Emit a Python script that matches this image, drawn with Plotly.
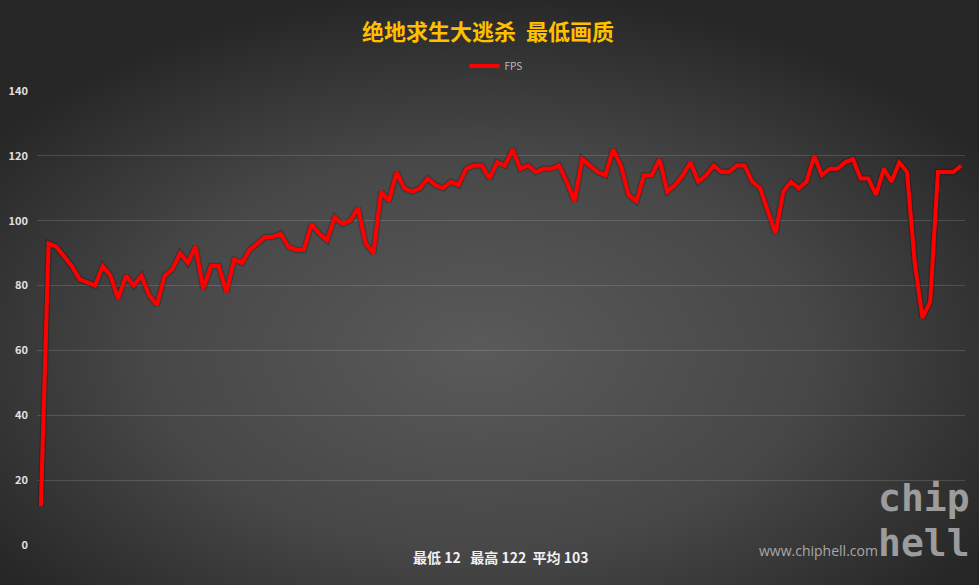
import base64
import plotly.graph_objects as go

title_text = "绝地求生大逃杀  最低画质"
series_name = "FPS"
fps = [12, 93, 92, 89, 86, 82, 81, 80, 86, 83,
       76, 83, 80, 83, 77, 74, 83, 85, 90, 87,
       92, 79, 86, 86, 78, 88, 87, 91, 93, 95,
       95, 96, 92, 91, 91, 99, 96, 94, 101, 99,
       100, 104, 93, 90, 109, 106, 115, 110, 109, 110,
       113, 111, 110, 112, 111, 116, 117, 117, 113, 118,
       117, 122, 116, 117, 115, 116, 116, 117, 112, 106,
       119, 117, 115, 114, 122, 117, 108, 106, 114, 114,
       119, 109, 111, 114, 118, 112, 114, 117, 115, 115,
       117, 117, 112, 110, 103, 96, 109, 112, 110, 112,
       120, 114, 116, 116, 118, 119, 113, 113, 108, 116,
       112, 118, 115, 87, 70, 75, 115, 115, 115, 117]
samples = list(range(len(fps)))
y_ticks = [0, 20, 40, 60, 80, 100, 120, 140]
footer_text = "最低 12   最高 122  平均 103"
site_text = "www.chiphell.com"

W, H = 979, 585
L, R, T, B = 37, 14, 91, 40
pw, ph = W - L - R, H - T - B

svg = f'''<svg xmlns="http://www.w3.org/2000/svg" width="{W}" height="{H}" viewBox="0 0 {W} {H}" preserveAspectRatio="none">
<defs><radialGradient id="g" cx="0.49" cy="0.6" r="0.62" fx="0.49" fy="0.6">
<stop offset="0" stop-color="#5a5a5a"/><stop offset="0.55" stop-color="#474747"/><stop offset="1" stop-color="#262626"/>
</radialGradient></defs><rect width="{W}" height="{H}" fill="url(#g)"/></svg>'''
bg_uri = "data:image/svg+xml;base64," + base64.b64encode(svg.encode()).decode()

fig = go.Figure()
fig.add_trace(go.Scatter(x=samples, y=fps, mode="lines", showlegend=False, hoverinfo="skip",
                         line=dict(color="rgba(0,0,0,0.22)", width=6.5)))
fig.add_trace(go.Scatter(x=samples, y=fps, mode="lines", name=series_name,
                         line=dict(color="#ff0000", width=4)))

font_cjk = "Noto Sans CJK SC"


def px_to_paper(xp, yp):
    return (xp - L) / pw, (H - B - yp) / ph


annotations = []
tx, ty = px_to_paper(488, 30)
annotations.append(dict(text=title_text, xref="paper", yref="paper", x=tx, y=ty,
                        xanchor="center", yanchor="middle", showarrow=False,
                        font=dict(family=font_cjk, size=22, color="#ffc000", weight="bold")))
fx, fy = px_to_paper(501, 557)
annotations.append(dict(text=footer_text, xref="paper", yref="paper", x=fx, y=fy,
                        xanchor="center", yanchor="middle", showarrow=False,
                        font=dict(family=font_cjk, size=14, color="#f0f0f0", weight="bold")))
sx, sy = px_to_paper(818, 550)
annotations.append(dict(text=site_text, xref="paper", yref="paper", x=sx, y=sy,
                        xanchor="center", yanchor="middle", showarrow=False,
                        font=dict(family="Open Sans", size=14, color="#a8a8a8")))
cx, cy = px_to_paper(924, 498)
annotations.append(dict(text="chip", xref="paper", yref="paper", x=cx, y=cy,
                        xanchor="center", yanchor="middle", showarrow=False,
                        font=dict(family="DejaVu Sans Mono", size=38, color="#9c9c9c", weight="bold")))
hx, hy = px_to_paper(924, 543)
annotations.append(dict(text="hell", xref="paper", yref="paper", x=hx, y=hy,
                        xanchor="center", yanchor="middle", showarrow=False,
                        font=dict(family="DejaVu Sans Mono", size=38, color="#9c9c9c", weight="bold")))

lx, ly = px_to_paper(496, 66)
fig.update_layout(
    width=W, height=H,
    margin=dict(l=L, r=R, t=T, b=B, autoexpand=False),
    paper_bgcolor="#282828",
    plot_bgcolor="rgba(0,0,0,0)",
    images=[dict(source=bg_uri, xref="paper", yref="paper", x=-L / pw, y=1 + T / ph,
                 sizex=W / pw, sizey=H / ph, xanchor="left", yanchor="top",
                 sizing="stretch", layer="below")],
    showlegend=True,
    legend=dict(orientation="h", x=lx, xanchor="center", y=ly, yanchor="middle",
                font=dict(family=font_cjk, size=10, color="#bdbdbd"), bgcolor="rgba(0,0,0,0)",
                itemwidth=30, tracegroupgap=0),
    xaxis=dict(range=[-0.5, len(fps) - 0.5], showgrid=False, showticklabels=False,
               zeroline=False, showline=False, ticks="", automargin=False),
    yaxis=dict(range=[0, 140], tickvals=y_ticks, showgrid=True, gridcolor="rgba(255,255,255,0.14)",
               gridwidth=1, zeroline=False, showline=False, ticks="", ticklabelstandoff=8,
               automargin=False,
               tickfont=dict(family=font_cjk, size=11, color="#e0e0e0", weight="bold")),
    annotations=annotations,
    hovermode=False,
)

fig.write_html("out.html", config={"displayModeBar": False},
               post_script="document.body.style.margin='0';document.body.style.overflow='hidden';")
